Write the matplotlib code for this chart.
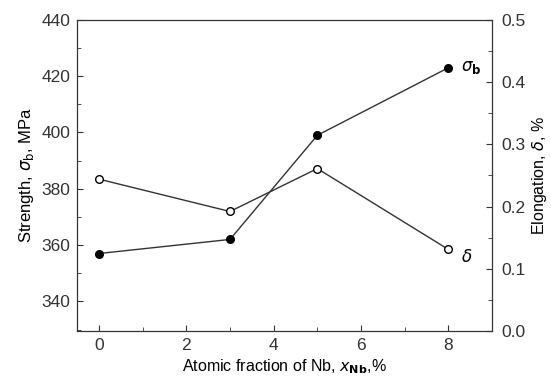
import matplotlib
matplotlib.use('Agg')
import matplotlib.pyplot as plt
from matplotlib.ticker import MultipleLocator

plt.rcParams['font.family'] = ['Liberation Sans', 'DejaVu Sans']
plt.rcParams['mathtext.fontset'] = 'dejavusans'

nb = [0, 3, 5, 8]
strength = [357, 362, 399, 423]
elong_x = [0, 3, 5, 8]
elongation = [0.244, 0.192, 0.261, 0.131]

fig = plt.figure(figsize=(5.51, 3.83), dpi=100)
ax = fig.add_axes([0.14, 0.136, 0.753, 0.812])
ax.plot(nb, strength, color='#333333', lw=1, marker='o', ms=5.5,
        mfc='black', mec='black')
ax.set_xlim(-0.5, 9)
ax.set_ylim(329.5, 440)
ax.xaxis.set_major_locator(MultipleLocator(2))
ax.xaxis.set_minor_locator(MultipleLocator(1))
ax.yaxis.set_major_locator(MultipleLocator(20))
ax.yaxis.set_minor_locator(MultipleLocator(10))
ax.tick_params(which='both', direction='in', labelsize=12.5, colors='#333333')
ax.tick_params(which='major', length=4, pad=5)
ax.tick_params(which='minor', length=3)
ax.set_xlabel(r'Atomic fraction of Nb, $x_{\mathbf{Nb}}$,%', fontsize=11.5, labelpad=3)
ax.set_ylabel(r'Strength, $\sigma_{\mathrm{b}}$, MPa', fontsize=12, labelpad=4)

ax2 = ax.twinx()
ax2.plot(elong_x, elongation, color='#333333', lw=1, marker='o', ms=5.5,
         mfc='white', mec='black')
ax2.set_ylim(0, 0.5)
ax2.yaxis.set_major_locator(MultipleLocator(0.1))
ax2.yaxis.set_minor_locator(MultipleLocator(0.05))
ax2.tick_params(which='both', direction='in', labelsize=12.5, colors='#333333')
ax2.tick_params(which='major', length=4, pad=7)
ax2.tick_params(which='minor', length=3)
ax2.yaxis.set_major_formatter(matplotlib.ticker.FormatStrFormatter('%.1f'))
ax2.set_ylabel(r'Elongation, $\delta$, %', fontsize=11.5, labelpad=3)

ax.text(8.3, 423, r'$\sigma_{\mathbf{b}}$', fontsize=12, va='center')
ax2.text(8.3, 0.12, r'$\delta$', fontsize=12, va='center')

for a in (ax, ax2):
    for s in a.spines.values():
        s.set_color('#333333')

fig.savefig('out.png', dpi=100)
